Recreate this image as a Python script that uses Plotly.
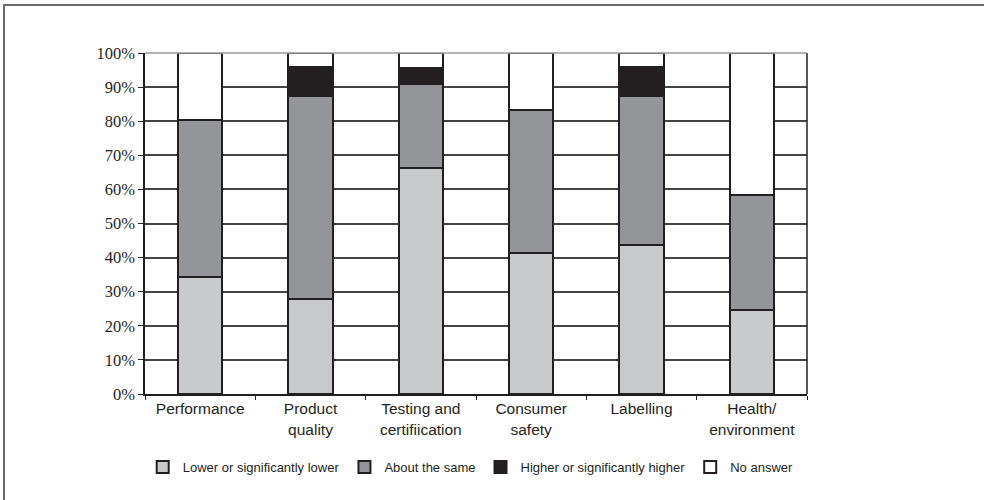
import plotly.graph_objects as go

categories = ["Performance", "Product<br>quality", "Testing and<br>certifiication",
              "Consumer<br>safety", "Labelling", "Health/<br>environment"]
lower = [34.2, 27.9, 66.3, 41.3, 43.7, 24.6]
same = [46.1, 59.5, 24.7, 42.0, 43.7, 33.7]
higher = [0.0, 8.6, 4.7, 0.0, 8.6, 0.0]
no_answer = [19.7, 4.0, 4.3, 16.7, 4.0, 41.7]

series_names = ["Lower or significantly lower", "About the same",
                "Higher or significantly higher", "No answer"]
series_values = [lower, same, higher, no_answer]
series_colors = ["#c8c9cb", "#939598", "#231f20", "#ffffff"]

fig = go.Figure()
for name, vals, col in zip(series_names, series_values, series_colors):
    fig.add_trace(go.Bar(
        x=categories, y=vals, name=name, width=0.4,
        marker=dict(color=col, line=dict(color="#231f20", width=2)),
    ))

fig.update_layout(
    barmode="stack",
    width=984, height=500,
    margin=dict(l=145, r=177, t=53, b=106, autoexpand=False),
    paper_bgcolor="white", plot_bgcolor="white",
    showlegend=True,
    legend=dict(orientation="h", x=0.492, xanchor="center",
                y=-0.214, yanchor="middle",
                font=dict(family="Liberation Sans", size=13, color="#231f20"),
                tracegroupgap=0, traceorder="normal"),
    yaxis=dict(range=[0, 100], dtick=10, ticksuffix="%",
               showgrid=True, gridcolor="#444444", gridwidth=1.5,
               showline=True, linecolor="#231f20", linewidth=1.5,
               ticks="outside", ticklen=5, tickcolor="#231f20",
               tickfont=dict(family="Liberation Serif", size=16.5, color="#231f20"),
               zeroline=False, fixedrange=True),
    xaxis=dict(showline=True, linecolor="#231f20", linewidth=1.5,
               ticks="outside", ticklen=4, tickcolor="#231f20",
               tickson="boundaries", mirror=False,
               tickfont=dict(family="Liberation Sans", size=15.5, color="#231f20"),
               fixedrange=True),
    shapes=[
        dict(type="line", xref="paper", yref="paper", x0=1, x1=1, y0=0, y1=1,
             line=dict(color="#231f20", width=1.5)),
        dict(type="line", xref="paper", yref="paper", x0=0, x1=1, y0=1, y1=1,
             line=dict(color="#9a9a9a", width=1.5)),
        dict(type="rect", xref="paper", yref="paper",
             x0=(4 - 145) / 662, x1=1.5, y0=-1, y1=(394 - 5) / 341,
             line=dict(color="#6a6a6a", width=2)),
    ],
)

fig.write_html("out.html", config={"displayModeBar": False},
               post_script="document.body.style.margin='0';document.body.style.overflow='hidden';")
